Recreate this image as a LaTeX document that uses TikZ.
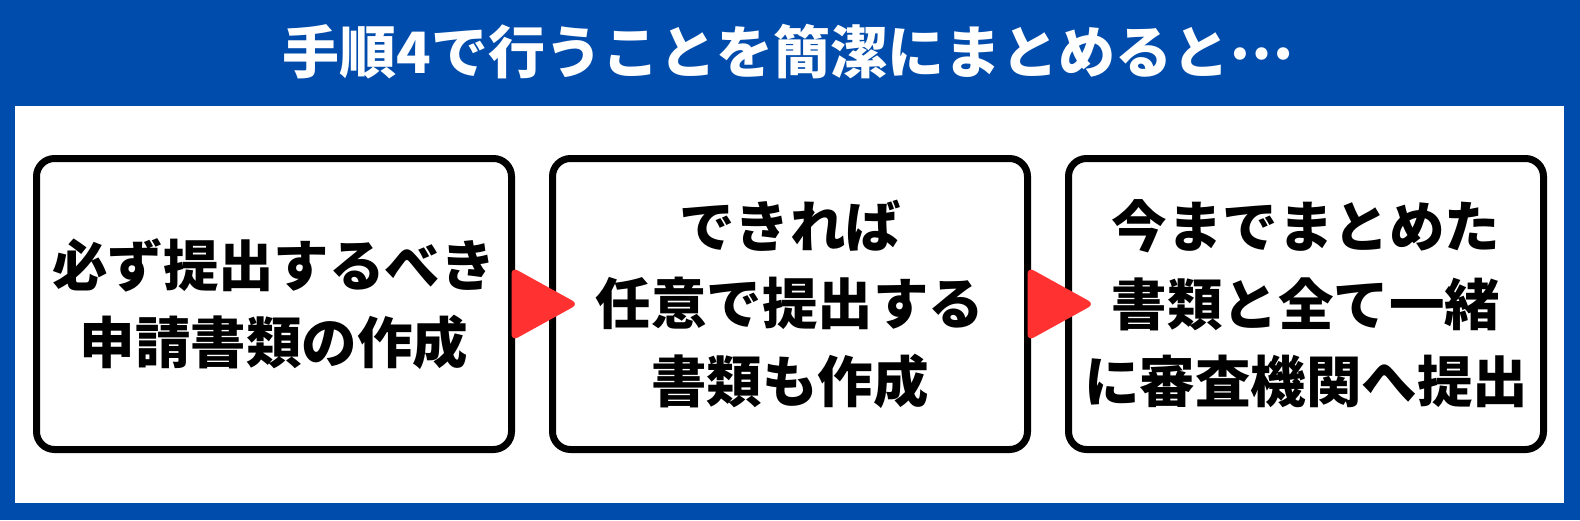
\documentclass[tikz,border=0pt]{standalone}
\usepackage{fontspec}
\newfontfamily\jpfont{Noto Sans CJK JP}
\usetikzlibrary{positioning,calc}
\definecolor{headblue}{RGB}{0,76,173}
\definecolor{arrowred}{RGB}{255,49,49}
\tikzset{card/.style={draw,line width=7pt,rounded corners=18pt,minimum width=475pt,minimum height=291pt,outer sep=0pt,inner sep=0pt,align=center,font=\jpfont\bfseries\fontsize{55.5}{77.5}\selectfont}}
\tikzset{headline/.style={text=white,font=\jpfont\bfseries\fontsize{57}{60}\selectfont}}
\tikzset{pointer/.style={fill=arrowred,rounded corners=7pt}}

\begin{document}
\begin{tikzpicture}[x=1pt,y=-1pt]
  \useasboundingbox (0,0) rectangle (1580,520);
  \fill[headblue] (0,0) rectangle (1580,520);
  \fill[white] (15,106) rectangle (1564,503);
  \node[headline] (title) at (788,52) {手順4で行うことを簡潔にまとめると\raisebox{0.25em}{…}};
  \node[card] (box1) at (274,304) {必ず提出するべき\\申請書類の作成};
  \node[card,right=41pt of box1] (box2) {できれば\\任意で提出する\\書類も作成};
  \node[card,right=41pt of box2] (box3) {今までまとめた\\書類と全て一緒\\に審査機関へ提出};
      \foreach \a in {box1,box2}
        \fill[pointer] (\a.east) ++(0,-37) -- ++(67,37) -- ++(-67,37) -- cycle;
\end{tikzpicture}
\end{document}
